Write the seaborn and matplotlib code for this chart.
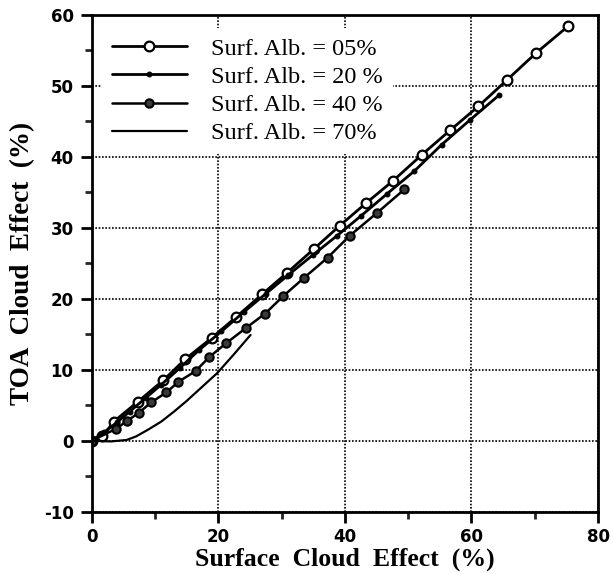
import numpy as np
import pandas as pd
import matplotlib
matplotlib.use("Agg")
import matplotlib.pyplot as plt
import seaborn as sns
from matplotlib.ticker import MultipleLocator

# surface albedo 5 %
x05 = [0, 1.7, 3.5, 7.3, 11.3, 14.8, 19.0, 22.8, 26.9, 30.8, 35.1, 39.2,
       43.4, 47.6, 52.2, 56.6, 61.1, 65.6, 70.2, 75.3]
y05 = [0, 0.6, 2.7, 5.5, 8.5, 11.5, 14.5, 17.4, 20.6, 23.6, 27.0, 30.3,
       33.5, 36.6, 40.3, 43.7, 47.1, 50.8, 54.6, 58.4]

# surface albedo 20 %
x20 = [0, 2, 4, 6, 8.5, 11, 14, 17, 20.5, 24, 27.5, 31, 35, 38.8, 42.6,
       46.7, 51, 55.3, 59.8, 64.4]
y20 = [0, 1.2, 2.6, 4.1, 6.0, 7.9, 10.3, 12.8, 15.4, 18.1, 20.7, 23.3,
       26.2, 28.9, 31.7, 34.8, 38.0, 41.7, 45.2, 48.7]

# surface albedo 40 %
x40 = [0, 3.9, 5.6, 7.4, 9.4, 11.8, 13.7, 16.4, 18.6, 21.2, 24.4, 27.4,
       30.3, 33.5, 37.3, 40.8, 45.1, 49.4]
y40 = [0, 1.7, 2.8, 3.9, 5.4, 6.8, 8.3, 9.8, 11.8, 13.7, 15.9, 17.9,
       20.4, 22.9, 25.8, 28.9, 32.1, 35.4]

# surface albedo 70 %
x70 = [0, 3.0, 5.5, 7.0, 8.8, 11.0, 13.0, 15.0, 16.6, 18.2, 19.8, 22.4, 25.1]
y70 = [0, -0.1, 0.1, 0.6, 1.5, 2.7, 4.1, 5.6, 6.9, 8.2, 9.5, 12.1, 14.9]

labels = ["Surf. Alb. = 05%", "Surf. Alb. = 20 %",
          "Surf. Alb. = 40 %", "Surf. Alb. = 70%"]

sns.set_theme(style="white")
plt.rcParams["font.family"] = ["DejaVu Sans"]
plt.rcParams["axes.unicode_minus"] = False

fig = plt.figure(figsize=(6.13, 5.74), dpi=100)
ax = fig.add_axes([0.1496, 0.1085, 0.826, 0.8659])

sns.lineplot(x=x05, y=y05, ax=ax, color="black", lw=2, sort=False,
             marker="o", markersize=7, markerfacecolor="white",
             markeredgecolor="black", markeredgewidth=1.6, label=labels[0])
sns.lineplot(x=x20, y=y20, ax=ax, color="black", lw=2, sort=False,
             marker="o", markersize=3.5, markerfacecolor="black",
             markeredgecolor="black", label=labels[1])
sns.lineplot(x=x40, y=y40, ax=ax, color="black", lw=1.8, sort=False,
             marker="o", markersize=6, markerfacecolor="#3a3a3a",
             markeredgecolor="black", markeredgewidth=1.5, label=labels[2])
sns.lineplot(x=x70, y=y70, ax=ax, color="black", lw=1.6, sort=False,
             label=labels[3])

ax.set_xlim(0, 80)
ax.set_ylim(-10, 60)
ax.xaxis.set_major_locator(MultipleLocator(20))
ax.xaxis.set_minor_locator(MultipleLocator(10))
ax.yaxis.set_major_locator(MultipleLocator(10))
ax.yaxis.set_minor_locator(MultipleLocator(5))
ax.grid(True, which="major", color="black", linestyle=(0, (1, 1)), lw=1.2)
ax.set_axisbelow(True)

for s in ax.spines.values():
    s.set_color("black")
    s.set_linewidth(2)
ax.tick_params(which="major", direction="out", length=8, width=2,
               labelsize=12, colors="black", bottom=True, left=True)
ax.tick_params(which="minor", direction="out", length=5, width=2,
               bottom=True, left=True)
ax.tick_params(axis="x", pad=4)
ax.tick_params(axis="y", pad=5)
for t in ax.get_xticklabels() + ax.get_yticklabels():
    t.set_fontweight("bold")

ax.set_xlabel("Surface  Cloud  Effect  (%)", family="Liberation Serif",
              fontweight="bold", fontsize=18.5, labelpad=0.5, color="black")
ax.set_ylabel("TOA  Cloud  Effect  (%)", family="Liberation Serif",
              fontweight="bold", fontsize=19.5, labelpad=6, color="black")

leg = ax.legend(loc="upper left", bbox_to_anchor=(0.02, 0.973),
                borderaxespad=0, borderpad=0.4,
                frameon=True, framealpha=1, edgecolor="white",
                handlelength=3.1, handletextpad=1.0, labelspacing=0.25,
                prop={"family": "Liberation Serif", "size": 17.5})
leg.get_frame().set_linewidth(0)
for t in leg.get_texts():
    t.set_color("black")

plt.savefig("out.png", dpi=100)
plt.close()
